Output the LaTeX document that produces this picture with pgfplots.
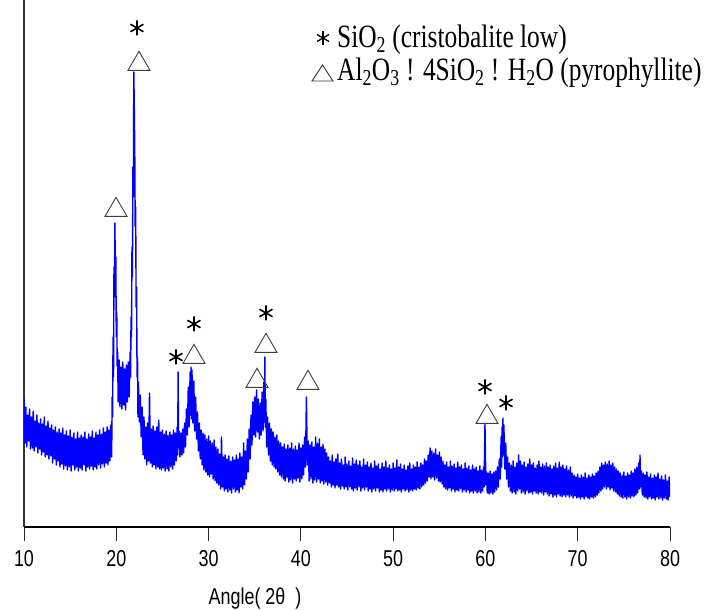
\documentclass[border=0pt]{standalone}
\usepackage{fontspec}
\setmainfont{Liberation Serif}
\setsansfont{Liberation Sans}
\usepackage{graphicx}
\usepackage{pgfplots}
\pgfplotsset{compat=1.18}
\newcommand\vs[1]{\scalebox{1}[1.28]{#1}}

\begin{document}
\begin{tikzpicture}
\useasboundingbox (-24bp,-83bp) rectangle (683bp,527bp);
\begin{axis}[
  scale only axis, width=646bp, height=527bp,
  xmin=10, xmax=80, ymin=0, ymax=527,
  axis x line*=bottom, axis y line*=left,
  x axis line style={black, line width=2.4bp},
  y axis line style={black!80, line width=1.8bp},
  ytick=\empty,
  xtick={10,20,...,80}, minor xtick={},
  tick align=outside, major tick length=14bp,
  xtick style={black!85, line width=0.9bp},
  xticklabel={\vs{\pgfmathprintnumber[assume math mode=true]{\tick}}},
  xticklabel style={font=\sffamily\fontsize{18}{20}\selectfont, anchor=north, yshift=-6bp},
]
% XRD trace (x: 2theta, y: intensity in plot units)
\addplot[blue, line width=1.4bp, line join=round] coordinates {
(10.0,129) (10.1,84) (10.2,120) (10.3,80) (10.4,112) (10.5,86) (10.6,118) (10.7,78) (10.8,110) (10.9,79)
(11.0,116) (11.1,76) (11.2,106) (11.3,80) (11.4,112) (11.5,74) (11.6,104) (11.7,78) (11.8,108) (11.9,72)
(12.0,103) (12.1,75) (12.2,110) (12.3,70) (12.4,101) (12.5,72) (12.6,106) (12.7,68) (12.8,99) (12.9,71)
(13.0,102) (13.1,64) (13.2,97) (13.3,68) (13.4,100) (13.5,62) (13.6,95) (13.7,66) (13.8,98) (13.9,60)
(14.0,94) (14.1,63) (14.2,99) (14.3,58) (14.4,92) (14.5,61) (14.6,96) (14.7,57) (14.8,91) (14.9,60)
(15.0,97) (15.1,56) (15.2,90) (15.3,62) (15.4,94) (15.5,57) (15.6,88) (15.7,60) (15.8,95) (15.9,56)
(16.0,89) (16.1,59) (16.2,92) (16.3,57) (16.4,90) (16.5,62) (16.6,95) (16.7,56) (16.8,88) (16.9,60)
(17.0,93) (17.1,58) (17.2,90) (17.3,61) (17.4,96) (17.5,57) (17.6,89) (17.7,60) (17.8,95) (17.9,58)
(18.0,92) (18.1,62) (18.2,97) (18.3,59) (18.4,93) (18.5,63) (18.6,99) (18.7,60) (18.8,95) (18.9,64)
(19.0,100) (19.1,62) (19.2,97) (19.3,66) (19.4,102) (19.5,70) (19.55,130) (19.6,110) (19.65,190) (19.7,150)
(19.75,260) (19.8,230) (19.85,304) (19.9,250) (19.95,270) (20.0,190) (20.05,215) (20.1,160) (20.15,175) (20.2,125)
(20.3,167) (20.4,120) (20.5,160) (20.6,118) (20.7,165) (20.8,122) (20.9,158) (21.0,117) (21.1,162) (21.2,125)
(21.3,165) (21.4,130) (21.5,175) (21.55,150) (21.6,210) (21.65,190) (21.7,280) (21.75,250) (21.8,360) (21.85,330)
(21.9,455) (21.95,420) (22.0,380) (22.05,300) (22.1,320) (22.15,220) (22.2,240) (22.25,150) (22.3,170) (22.35,110)
(22.4,145) (22.5,105) (22.6,132) (22.7,90) (22.8,120) (22.9,72) (23.0,110) (23.1,68) (23.2,100) (23.3,62)
(23.4,104) (23.5,66) (23.6,134) (23.7,64) (23.8,98) (23.9,60) (24.0,101) (24.1,62) (24.2,96) (24.3,58)
(24.4,100) (24.5,60) (24.6,107) (24.7,58) (24.8,95) (24.9,57) (25.0,97) (25.1,59) (25.2,93) (25.3,56)
(25.4,96) (25.5,58) (25.6,92) (25.7,56) (25.8,95) (25.9,60) (26.0,92) (26.1,58) (26.2,97) (26.3,62)
(26.4,94) (26.5,66) (26.6,100) (26.65,72) (26.7,155) (26.75,80) (26.8,96) (26.9,70) (27.0,94) (27.1,72)
(27.2,98) (27.3,74) (27.4,104) (27.5,80) (27.6,118) (27.7,92) (27.8,140) (27.9,100) (28.0,155) (28.05,112)
(28.1,160) (28.15,108) (28.2,157) (28.3,104) (28.4,146) (28.5,96) (28.6,130) (28.7,88) (28.8,115) (28.9,76)
(29.0,104) (29.1,68) (29.2,97) (29.3,62) (29.4,94) (29.5,57) (29.6,92) (29.7,55) (29.8,88) (29.9,52)
(30.0,91) (30.1,50) (30.2,86) (30.3,53) (30.4,84) (30.5,48) (30.6,87) (30.7,46) (30.8,80) (30.9,44)
(31.0,78) (31.1,42) (31.2,73) (31.3,38) (31.4,90) (31.5,40) (31.6,70) (31.7,36) (31.8,72) (31.9,38)
(32.0,68) (32.1,35) (32.2,71) (32.3,37) (32.4,66) (32.5,34) (32.6,70) (32.7,38) (32.8,67) (32.9,35)
(33.0,72) (33.1,37) (33.2,68) (33.3,34) (33.4,74) (33.5,40) (33.6,70) (33.7,38) (33.8,84) (33.9,42)
(34.0,76) (34.1,48) (34.2,88) (34.3,55) (34.4,98) (34.5,68) (34.6,112) (34.7,82) (34.8,125) (34.9,92)
(35.0,130) (35.1,90) (35.2,137) (35.3,95) (35.4,128) (35.5,88) (35.6,124) (35.7,92) (35.8,135) (35.9,96)
(36.0,145) (36.05,105) (36.1,170) (36.15,100) (36.2,128) (36.3,80) (36.4,110) (36.5,72) (36.6,104) (36.7,66)
(36.8,98) (36.9,62) (37.0,95) (37.1,60) (37.2,90) (37.3,58) (37.4,92) (37.5,55) (37.6,86) (37.7,52)
(37.8,84) (37.9,50) (38.0,80) (38.1,48) (38.2,83) (38.3,46) (38.4,78) (38.5,49) (38.6,82) (38.7,45)
(38.8,79) (38.9,47) (39.0,84) (39.1,44) (39.2,78) (39.3,48) (39.4,81) (39.5,46) (39.6,77) (39.7,49)
(39.8,84) (39.9,45) (40.0,79) (40.1,48) (40.2,82) (40.3,52) (40.4,90) (40.5,60) (40.6,130) (40.7,62)
(40.8,86) (40.9,46) (41.0,82) (41.1,48) (41.2,85) (41.3,44) (41.4,80) (41.5,47) (41.6,90) (41.7,45)
(41.8,84) (41.9,48) (42.0,88) (42.1,44) (42.2,80) (42.3,46) (42.4,83) (42.5,43) (42.6,78) (42.7,45)
(42.8,74) (42.9,42) (43.0,70) (43.1,44) (43.2,66) (43.3,40) (43.4,72) (43.5,42) (43.6,65) (43.7,39)
(43.8,68) (43.9,42) (44.0,73) (44.1,40) (44.2,64) (44.3,38) (44.4,68) (44.5,41) (44.6,62) (44.7,38)
(44.8,70) (44.9,40) (45.0,63) (45.1,37) (45.2,66) (45.3,40) (45.4,61) (45.5,38) (45.6,69) (45.7,36)
(45.8,63) (45.9,39) (46.0,67) (46.1,37) (46.2,62) (46.3,40) (46.4,66) (46.5,36) (46.6,60) (46.7,39)
(46.8,68) (46.9,37) (47.0,62) (47.1,40) (47.2,65) (47.3,36) (47.4,60) (47.5,38) (47.6,64) (47.7,35)
(47.8,59) (47.9,38) (48.0,66) (48.1,36) (48.2,61) (48.3,39) (48.4,63) (48.5,35) (48.6,58) (48.7,37)
(48.8,64) (48.9,35) (49.0,60) (49.1,38) (49.2,66) (49.3,36) (49.4,59) (49.5,38) (49.6,62) (49.7,35)
(49.8,58) (49.9,37) (50.0,64) (50.1,36) (50.2,59) (50.3,38) (50.4,67) (50.5,36) (50.6,60) (50.7,37)
(50.8,63) (50.9,35) (51.0,58) (51.1,38) (51.2,62) (51.3,36) (51.4,57) (51.5,37) (51.6,61) (51.7,35)
(51.8,64) (51.9,37) (52.0,58) (52.1,36) (52.2,62) (52.3,38) (52.4,60) (52.5,37) (52.6,65) (52.7,39)
(52.8,60) (52.9,38) (53.0,64) (53.1,40) (53.2,62) (53.3,42) (53.4,68) (53.5,44) (53.6,66) (53.7,46)
(53.8,72) (53.9,50) (54.0,79) (54.1,48) (54.2,76) (54.3,50) (54.4,74) (54.5,47) (54.6,78) (54.7,49)
(54.8,72) (54.9,46) (55.0,75) (55.1,45) (55.2,70) (55.3,43) (55.4,66) (55.5,40) (55.6,62) (55.7,38)
(55.8,65) (55.9,37) (56.0,60) (56.1,39) (56.2,66) (56.3,36) (56.4,61) (56.5,38) (56.6,63) (56.7,35)
(56.8,59) (56.9,37) (57.0,65) (57.1,36) (57.2,60) (57.3,38) (57.4,62) (57.5,35) (57.6,58) (57.7,37)
(57.8,64) (57.9,35) (58.0,59) (58.1,37) (58.2,61) (58.3,34) (58.4,57) (58.5,36) (58.6,62) (58.7,34)
(58.8,58) (58.9,36) (59.0,60) (59.1,34) (59.2,56) (59.3,35) (59.4,61) (59.5,34) (59.6,57) (59.7,36)
(59.8,60) (59.85,40) (59.95,103) (60.05,42) (60.1,55) (60.2,34) (60.3,54) (60.4,33) (60.5,56) (60.6,34)
(60.7,53) (60.8,33) (60.9,55) (61.0,35) (61.1,56) (61.2,37) (61.3,60) (61.4,40) (61.5,68) (61.6,48)
(61.7,90) (61.75,60) (61.8,100) (61.85,70) (61.9,109) (61.95,72) (62.0,102) (62.1,58) (62.2,84) (62.3,48)
(62.4,70) (62.5,40) (62.6,64) (62.7,36) (62.8,62) (62.9,34) (63.0,66) (63.1,35) (63.2,60) (63.3,33)
(63.4,64) (63.5,36) (63.6,72) (63.7,38) (63.8,66) (63.9,34) (64.0,62) (64.1,35) (64.2,65) (64.3,33)
(64.4,60) (64.5,36) (64.6,63) (64.7,34) (64.8,68) (64.9,35) (65.0,62) (65.1,33) (65.2,64) (65.3,36)
(65.4,59) (65.5,34) (65.6,62) (65.7,33) (65.8,66) (65.9,35) (66.0,60) (66.1,34) (66.2,63) (66.3,32)
(66.4,61) (66.5,35) (66.6,64) (66.7,33) (66.8,60) (66.9,31) (67.0,62) (67.1,33) (67.2,58) (67.3,30)
(67.4,61) (67.5,32) (67.6,64) (67.7,30) (67.8,59) (67.9,33) (68.0,65) (68.1,31) (68.2,60) (68.3,30)
(68.4,62) (68.5,32) (68.6,58) (68.7,30) (68.8,61) (68.9,32) (69.0,57) (69.1,30) (69.2,60) (69.3,31)
(69.4,54) (69.5,29) (69.6,52) (69.7,31) (69.8,50) (69.9,29) (70.0,53) (70.1,30) (70.2,49) (70.3,28)
(70.4,52) (70.5,30) (70.6,50) (70.7,28) (70.8,54) (70.9,30) (71.0,49) (71.1,29) (71.2,52) (71.3,28)
(71.4,50) (71.5,30) (71.6,53) (71.7,29) (71.8,51) (71.9,30) (72.0,54) (72.1,32) (72.2,56) (72.3,34)
(72.4,60) (72.5,36) (72.6,64) (72.7,38) (72.8,62) (72.9,40) (73.0,65) (73.1,38) (73.2,63) (73.3,40)
(73.4,66) (73.5,37) (73.6,62) (73.7,39) (73.8,64) (73.9,36) (74.0,60) (74.1,35) (74.2,58) (74.3,33)
(74.4,56) (74.5,31) (74.6,54) (74.7,30) (74.8,52) (74.9,29) (75.0,55) (75.1,30) (75.2,51) (75.3,28)
(75.4,54) (75.5,30) (75.6,52) (75.7,29) (75.8,56) (75.9,31) (76.0,54) (76.1,30) (76.2,58) (76.3,32)
(76.4,60) (76.5,34) (76.6,64) (76.7,38) (76.75,72) (76.8,40) (76.9,56) (77.0,32) (77.1,54) (77.2,30)
(77.3,52) (77.4,29) (77.5,55) (77.6,28) (77.7,50) (77.8,30) (77.9,53) (78.0,28) (78.1,49) (78.2,29)
(78.3,52) (78.4,27) (78.5,50) (78.6,30) (78.7,54) (78.8,28) (78.9,48) (79.0,29) (79.1,51) (79.2,27)
(79.3,47) (79.4,29) (79.5,52) (79.6,28) (79.7,46) (79.8,27) (79.9,50) (80.0,30)
};
% pyrophyllite peaks (triangles)
\addplot[only marks, mark=triangle, mark size=12.7bp,
  mark options={draw=black!75, fill=white, line width=0.9bp}] coordinates {
(19.97,317) (22.46,463) (28.42,170) (35.25,146) (36.22,181) (40.77,144) (60.17,110)
};
% cristobalite peaks (asterisks)
\addplot[only marks, mark=asterisk, mark size=7.5bp,
  mark options={black, line width=1.6bp}] coordinates {
(22.24,499) (26.47,170) (28.42,203) (36.22,214) (59.95,140) (62.23,124)
};
\end{axis}

% legend
\begin{scope}[line width=1.3bp]
\draw (299bp,482bp) -- (299bp,496bp);
\draw (293bp,485.5bp) -- (305bp,492.5bp);
\draw (293bp,492.5bp) -- (305bp,485.5bp);
\end{scope}
\draw[black!80, line width=0.9bp] (288bp,446bp) -- (309bp,446bp) -- (298.5bp,462bp) -- cycle;
\node[anchor=base west, inner sep=0pt, font=\fontsize{25.5}{30}\selectfont] at (313bp,479bp)
  {\vs{SiO\textsubscript{2} (cristobalite low)}};
\node[anchor=base west, inner sep=0pt, font=\fontsize{25.5}{30}\selectfont] at (313bp,446bp)
  {\vs{Al\textsubscript{2}O\textsubscript{3} ! 4SiO\textsubscript{2} ! H\textsubscript{2}O (pyrophyllite)}};
% axis title
\node[anchor=base, inner sep=0pt, font=\sffamily\fontsize{18}{20}\selectfont] at (231bp,-77bp)
  {\vs{Angle( 2θ\ \ )}};
\end{tikzpicture}
\end{document}
